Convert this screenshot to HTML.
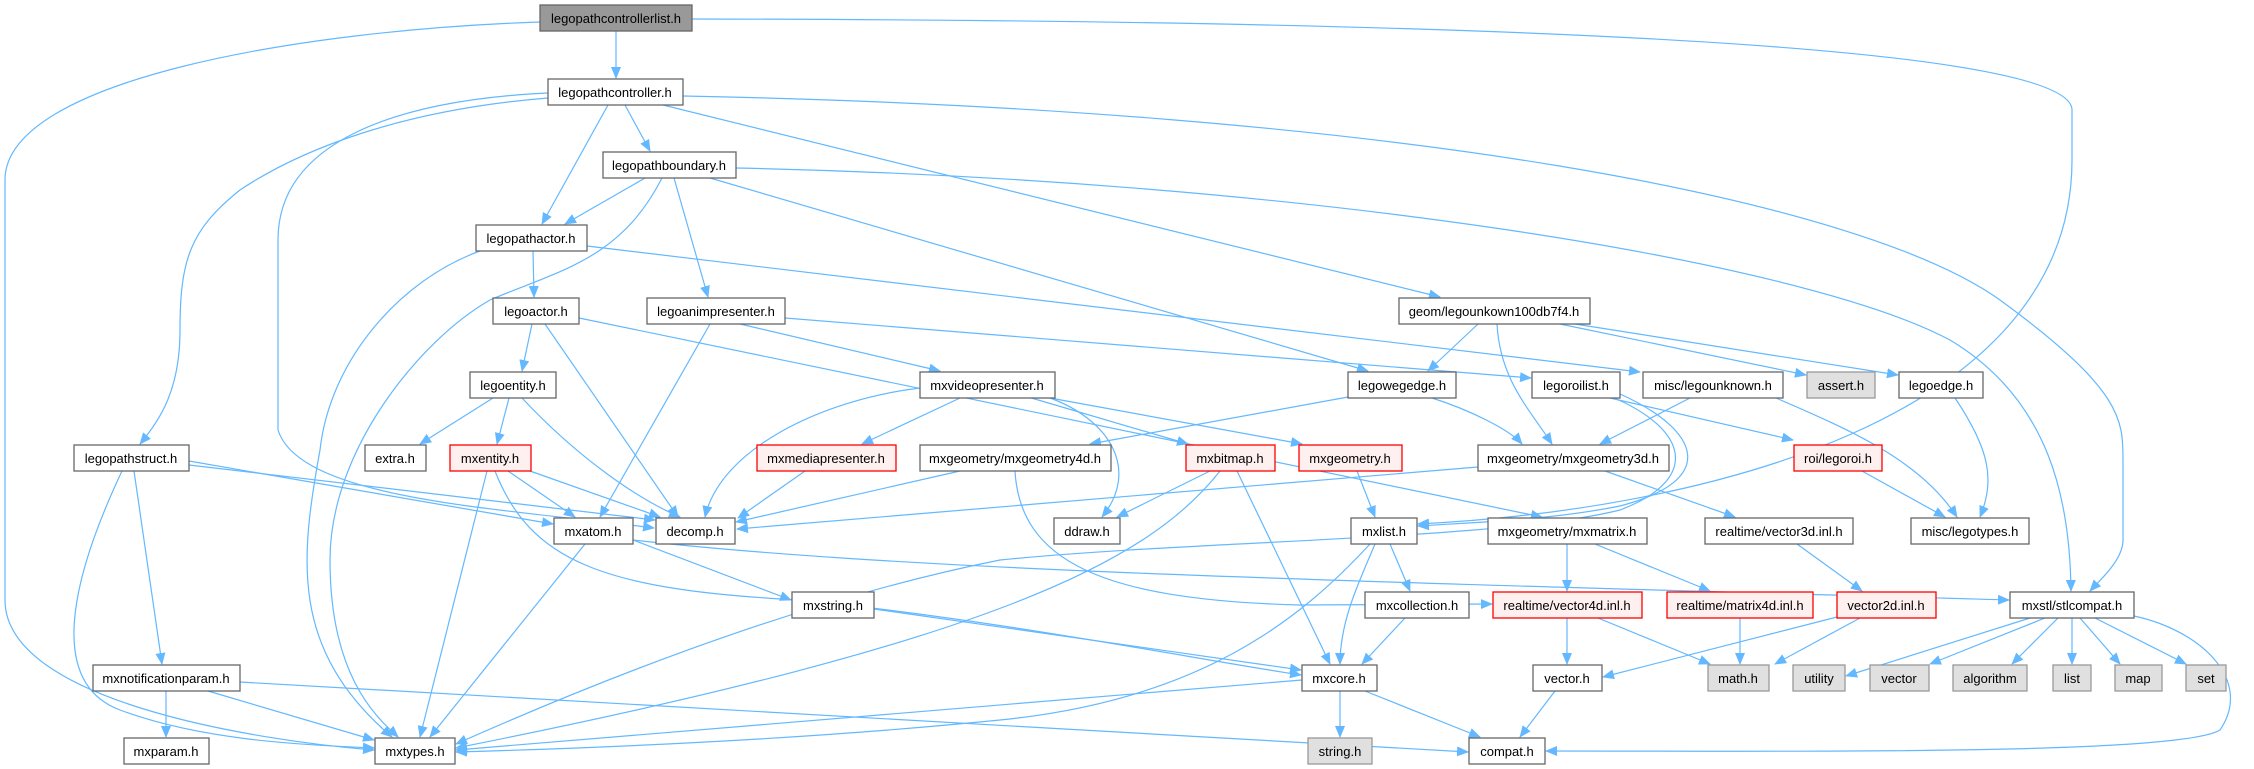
<!DOCTYPE html>
<html><head><meta charset="utf-8"><style>
html,body{margin:0;padding:0;background:#fff;}
svg{display:block;}
text{font-family:"Liberation Sans",Helvetica,sans-serif;font-size:13px;fill:#000;text-anchor:middle;}
.n{fill:#fff;stroke:#666;stroke-width:1.3;}
.r{fill:#fff0f0;stroke:#ff0000;stroke-width:1.3;}
.g{fill:#e0e0e0;stroke:#999;stroke-width:1.3;}
.t{fill:#999;stroke:#666;stroke-width:1.3;}
path.e{fill:none;stroke:#63b8ff;stroke-width:1.2;marker-end:url(#a);}
</style></head><body>
<svg width="2254" height="769" viewBox="0 0 2254 769" xmlns="http://www.w3.org/2000/svg">
<defs><marker id="a" markerWidth="12" markerHeight="10" refX="11" refY="5" orient="auto" markerUnits="userSpaceOnUse"><path d="M0,0 L12,5 L0,10 z" fill="#63b8ff"/></marker></defs>
<g>
<!-- edges -->
<path class="e" d="M616,31 L616,78"/>
<path class="e" d="M540,22 C300,30 5,80 5,180 L5,600 C5,700 250,740 374,750"/>
<path class="e" d="M692,19 C1400,20 2072,40 2072,110 L2072,160 C2072,420 1700,510 1418,524"/>
<path class="e" d="M625,105 L650,151"/>
<path class="e" d="M608,105 L542,224"/>
<path class="e" d="M548,98 C400,110 300,150 240,190 C190,230 180,260 180,330 C180,390 160,420 140,444"/>
<path class="e" d="M548,93 C400,100 278,140 278,240 L278,430 C300,500 500,508 654,528"/>
<path class="e" d="M663,105 L1440,297"/>
<path class="e" d="M683,96 C1400,110 1860,200 2000,300 C2123,390 2123,420 2123,460 L2123,540 C2123,560 2100,580 2090,591"/>
<path class="e" d="M645,178 L565,224"/>
<path class="e" d="M662,178 C620,260 560,270 490,300 C420,340 330,450 330,560 C330,680 380,720 398,737"/>
<path class="e" d="M674,178 L708,297"/>
<path class="e" d="M710,178 L1368,371"/>
<path class="e" d="M736,168 C1300,180 1800,260 1950,340 C2050,400 2070,500 2071,591"/>
<path class="e" d="M480,251 C400,280 330,360 320,450 C300,560 290,650 392,737"/>
<path class="e" d="M533,251 L534,297"/>
<path class="e" d="M587,246 L1640,372"/>
<path class="e" d="M532,324 L522,371"/>
<path class="e" d="M545,324 L678,517"/>
<path class="e" d="M579,318 L1542,517"/>
<path class="e" d="M710,324 L600,517"/>
<path class="e" d="M740,324 L940,371"/>
<path class="e" d="M785,318 L1531,378"/>
<path class="e" d="M1478,324 L1428,371"/>
<path class="e" d="M1497,324 C1500,380 1530,410 1552,444"/>
<path class="e" d="M1560,324 L1806,375"/>
<path class="e" d="M1575,324 L1898,375"/>
<path class="e" d="M493,398 L420,444"/>
<path class="e" d="M509,398 L497,444"/>
<path class="e" d="M522,398 C580,460 640,500 680,517"/>
<path class="e" d="M920,388 C820,400 720,450 705,517"/>
<path class="e" d="M960,398 L862,444"/>
<path class="e" d="M1028,397 L1188,444"/>
<path class="e" d="M1050,398 L1302,444"/>
<path class="e" d="M1050,398 C1110,420 1140,470 1102,517"/>
<path class="e" d="M1348,397 L1090,444"/>
<path class="e" d="M1432,398 C1470,410 1510,430 1522,444"/>
<path class="e" d="M1610,398 L1793,440"/>
<path class="e" d="M1620,394 C1700,430 1720,480 1620,506 C1550,520 1480,522 1418,526"/>
<path class="e" d="M1612,397 C1690,430 1700,480 1620,510 C1500,540 1200,540 1000,560 C800,600 600,680 456,744"/>
<path class="e" d="M1690,398 L1600,444"/>
<path class="e" d="M1776,398 C1850,430 1920,460 1957,517"/>
<path class="e" d="M1955,398 C1990,450 1995,480 1980,517"/>
<path class="e" d="M1862,471 L1945,517"/>
<path class="e" d="M189,461 L553,524"/>
<path class="e" d="M189,465 L655,520"/>
<path class="e" d="M134,471 L162,664"/>
<path class="e" d="M122,471 C80,560 40,680 120,710 C200,740 300,745 374,748"/>
<path class="e" d="M508,471 L575,517"/>
<path class="e" d="M530,471 L660,517"/>
<path class="e" d="M487,471 L420,737"/>
<path class="e" d="M495,471 C530,560 600,590 800,600 C1000,620 1200,660 1301,675"/>
<path class="e" d="M805,471 L738,518"/>
<path class="e" d="M960,471 L736,522"/>
<path class="e" d="M1015,471 C1020,560 1100,600 1300,605 L1492,604"/>
<path class="e" d="M1210,471 L1117,517"/>
<path class="e" d="M1220,471 C1150,560 1000,640 456,748"/>
<path class="e" d="M1237,471 L1330,664"/>
<path class="e" d="M1357,471 L1375,517"/>
<path class="e" d="M1478,467 L737,529"/>
<path class="e" d="M1605,471 L1735,517"/>
<path class="e" d="M633,540 L791,600"/>
<path class="e" d="M585,544 L430,737"/>
<path class="e" d="M633,540 C900,570 1300,580 2009,600"/>
<path class="e" d="M1390,544 L1410,591"/>
<path class="e" d="M1375,544 C1360,580 1340,620 1340,664"/>
<path class="e" d="M1370,544 C1300,620 1200,700 1000,720 C800,740 600,748 456,752"/>
<path class="e" d="M1567,544 L1567,591"/>
<path class="e" d="M1595,544 L1710,591"/>
<path class="e" d="M1797,544 L1862,591"/>
<path class="e" d="M874,609 L1301,670"/>
<path class="e" d="M1405,618 L1362,664"/>
<path class="e" d="M1567,618 L1567,664"/>
<path class="e" d="M1598,618 L1710,664"/>
<path class="e" d="M1740,618 L1740,664"/>
<path class="e" d="M1837,617 L1603,677"/>
<path class="e" d="M1860,618 L1775,664"/>
<path class="e" d="M2030,618 L1846,676"/>
<path class="e" d="M2045,618 L1930,664"/>
<path class="e" d="M2058,618 L2012,664"/>
<path class="e" d="M2072,618 L2072,664"/>
<path class="e" d="M2080,618 L2120,664"/>
<path class="e" d="M2095,618 L2186,664"/>
<path class="e" d="M2134,616 C2200,630 2254,680 2220,730 C2180,755 1800,751 1546,751"/>
<path class="e" d="M166,691 L166,737"/>
<path class="e" d="M208,691 L374,740"/>
<path class="e" d="M240,682 L1468,752"/>
<path class="e" d="M1302,680 L456,750"/>
<path class="e" d="M1340,691 L1340,737"/>
<path class="e" d="M1365,691 L1480,737"/>
<path class="e" d="M1555,691 L1520,737"/>
</g>
<g>
<!-- nodes -->
<rect class="t" x="540" y="5" width="152" height="26"/><text x="616" y="23">legopathcontrollerlist.h</text>
<rect class="n" x="548" y="79" width="135" height="26"/><text x="615" y="97">legopathcontroller.h</text>
<rect class="n" x="603" y="152" width="133" height="26"/><text x="669" y="170">legopathboundary.h</text>
<rect class="n" x="476" y="225" width="111" height="26"/><text x="531" y="243">legopathactor.h</text>
<rect class="n" x="493" y="298" width="86" height="26"/><text x="536" y="316">legoactor.h</text>
<rect class="n" x="647" y="298" width="138" height="26"/><text x="716" y="316">legoanimpresenter.h</text>
<rect class="n" x="1399" y="298" width="191" height="26"/><text x="1494" y="316">geom/legounkown100db7f4.h</text>
<rect class="n" x="470" y="372" width="86" height="26"/><text x="513" y="390">legoentity.h</text>
<rect class="n" x="920" y="372" width="135" height="26"/><text x="987" y="390">mxvideopresenter.h</text>
<rect class="n" x="1348" y="372" width="108" height="26"/><text x="1402" y="390">legowegedge.h</text>
<rect class="n" x="1532" y="372" width="88" height="26"/><text x="1576" y="390">legoroilist.h</text>
<rect class="n" x="1643" y="372" width="140" height="26"/><text x="1713" y="390">misc/legounknown.h</text>
<rect class="g" x="1807" y="372" width="68" height="26"/><text x="1841" y="390">assert.h</text>
<rect class="n" x="1899" y="372" width="84" height="26"/><text x="1941" y="390">legoedge.h</text>
<rect class="n" x="74" y="445" width="115" height="26"/><text x="131" y="463">legopathstruct.h</text>
<rect class="n" x="365" y="445" width="61" height="26"/><text x="395" y="463">extra.h</text>
<rect class="r" x="450" y="445" width="81" height="26"/><text x="490" y="463">mxentity.h</text>
<rect class="r" x="757" y="445" width="139" height="26"/><text x="826" y="463">mxmediapresenter.h</text>
<rect class="n" x="920" y="445" width="191" height="26"/><text x="1015" y="463">mxgeometry/mxgeometry4d.h</text>
<rect class="r" x="1186" y="445" width="89" height="26"/><text x="1230" y="463">mxbitmap.h</text>
<rect class="r" x="1299" y="445" width="103" height="26"/><text x="1350" y="463">mxgeometry.h</text>
<rect class="n" x="1478" y="445" width="191" height="26"/><text x="1573" y="463">mxgeometry/mxgeometry3d.h</text>
<rect class="r" x="1794" y="445" width="88" height="26"/><text x="1838" y="463">roi/legoroi.h</text>
<rect class="n" x="554" y="518" width="79" height="26"/><text x="593" y="536">mxatom.h</text>
<rect class="n" x="656" y="518" width="79" height="26"/><text x="695" y="536">decomp.h</text>
<rect class="n" x="1054" y="518" width="66" height="26"/><text x="1087" y="536">ddraw.h</text>
<rect class="n" x="1351" y="518" width="66" height="26"/><text x="1384" y="536">mxlist.h</text>
<rect class="n" x="1488" y="518" width="159" height="26"/><text x="1567" y="536">mxgeometry/mxmatrix.h</text>
<rect class="n" x="1705" y="518" width="148" height="26"/><text x="1779" y="536">realtime/vector3d.inl.h</text>
<rect class="n" x="1911" y="518" width="118" height="26"/><text x="1970" y="536">misc/legotypes.h</text>
<rect class="n" x="792" y="592" width="82" height="26"/><text x="833" y="610">mxstring.h</text>
<rect class="n" x="1365" y="592" width="104" height="26"/><text x="1417" y="610">mxcollection.h</text>
<rect class="r" x="1493" y="592" width="149" height="26"/><text x="1567" y="610">realtime/vector4d.inl.h</text>
<rect class="r" x="1667" y="592" width="146" height="26"/><text x="1740" y="610">realtime/matrix4d.inl.h</text>
<rect class="r" x="1837" y="592" width="99" height="26"/><text x="1886" y="610">vector2d.inl.h</text>
<rect class="n" x="2010" y="592" width="124" height="26"/><text x="2072" y="610">mxstl/stlcompat.h</text>
<rect class="n" x="93" y="665" width="147" height="26"/><text x="166" y="683">mxnotificationparam.h</text>
<rect class="n" x="1302" y="665" width="75" height="26"/><text x="1339" y="683">mxcore.h</text>
<rect class="n" x="1533" y="665" width="69" height="26"/><text x="1567" y="683">vector.h</text>
<rect class="g" x="1708" y="665" width="61" height="26"/><text x="1738" y="683">math.h</text>
<rect class="g" x="1793" y="665" width="52" height="26"/><text x="1819" y="683">utility</text>
<rect class="g" x="1870" y="665" width="59" height="26"/><text x="1899" y="683">vector</text>
<rect class="g" x="1953" y="665" width="74" height="26"/><text x="1990" y="683">algorithm</text>
<rect class="g" x="2053" y="665" width="38" height="26"/><text x="2072" y="683">list</text>
<rect class="g" x="2115" y="665" width="47" height="26"/><text x="2138" y="683">map</text>
<rect class="g" x="2186" y="665" width="40" height="26"/><text x="2206" y="683">set</text>
<rect class="n" x="124" y="738" width="85" height="26"/><text x="166" y="756">mxparam.h</text>
<rect class="n" x="375" y="738" width="80" height="26"/><text x="415" y="756">mxtypes.h</text>
<rect class="g" x="1308" y="738" width="64" height="26"/><text x="1340" y="756">string.h</text>
<rect class="n" x="1469" y="738" width="76" height="26"/><text x="1507" y="756">compat.h</text>
</g>
</svg>
</body></html>
